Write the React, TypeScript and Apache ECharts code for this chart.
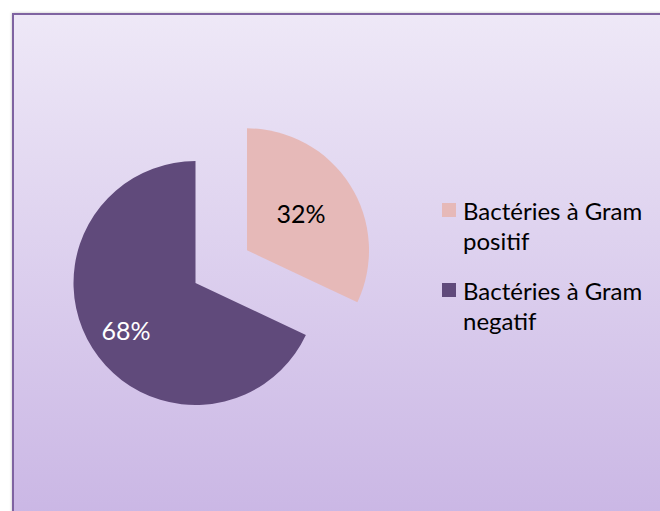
import React, { useEffect, useRef } from "react";
import * as echarts from "echarts";

const categories = ["Bactéries à Gram positif", "Bactéries à Gram negatif"];
const values = [32, 68];
const colors = ["#E6B9B8", "#604A7B"];
const labelColors = ["#000000", "#FFFFFF"];

export default function App() {
  const ref = useRef<HTMLDivElement>(null);
  useEffect(() => {
    if (!ref.current) return;
    const chart = echarts.init(ref.current, null, { renderer: "svg" });
    const font = "Lato, 'Open Sans', sans-serif";
    chart.setOption({
      animation: false,
      graphic: [
        {
          type: "rect",
          z: -10,
          silent: true,
          shape: { x: 13, y: 14, width: 700, height: 520 },
          style: {
            fill: new echarts.graphic.LinearGradient(0, 0, 0, 1, [
              { offset: 0, color: "#EEE8F7" },
              { offset: 1, color: "#C9B5E4" },
            ]),
            stroke: "#7F63A1",
            lineWidth: 2,
            shadowBlur: 3,
            shadowColor: "rgba(0,0,0,0.25)",
          },
        },
      ],
      legend: {
        orient: "vertical",
        left: 442,
        top: 165,
        padding: 0,
        itemWidth: 14,
        itemHeight: 14,
        itemGap: -10,
        icon: "rect",
        selectedMode: false,
        data: categories,
        formatter: (name: string) => "\n" + name.replace(/ (\S+)$/, "\n$1"),
        textStyle: {
          fontFamily: font,
          fontSize: 24,
          lineHeight: 30,
          color: "#000000",
          padding: [0, 0, 0, 2],
        },
      },
      series: [
        {
          type: "pie",
          center: [195.5, 283],
          radius: 122,
          startAngle: 90,
          clockwise: true,
          selectedMode: "single",
          selectedOffset: 61,
          silent: true,
          avoidLabelOverlap: false,
          emphasis: { disabled: true },
          labelLine: { show: false },
          label: {
            show: true,
            position: "inside",
            fontFamily: font,
            fontSize: 25,
            formatter: (p: any) =>
              p.dataIndex === 0 ? p.value + "%\n" : "\n" + p.value + "%",
          },
          data: categories.map((name, i) => ({
            name,
            value: values[i],
            selected: i === 0,
            itemStyle: { color: colors[i] },
            label:
              i === 0
                ? { color: labelColors[i], lineHeight: 6 }
                : { color: labelColors[i], lineHeight: 25, padding: [0, 31, 0, 0] },
          })),
        },
      ],
    });
    return () => chart.dispose();
  }, []);
  return (
    <div
      ref={ref}
      style={{ position: "absolute", left: 0, top: 0, width: 660, height: 511 }}
    />
  );
}
